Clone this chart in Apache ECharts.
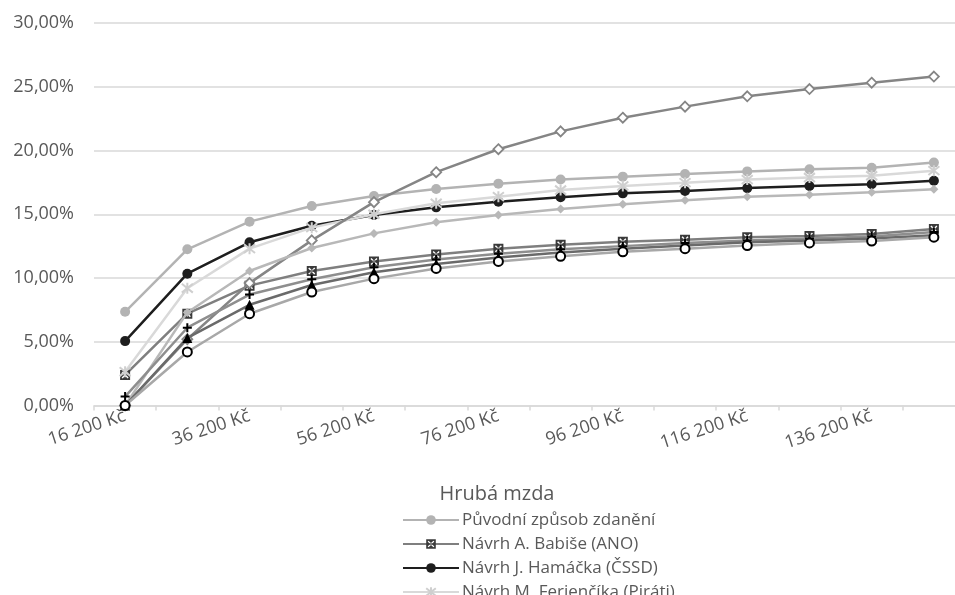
<!DOCTYPE html>
<html>
<head>
<meta charset="utf-8">
<script src="https://cdn.jsdelivr.net/npm/echarts@6/dist/echarts.min.js"></script>
<style>
  html, body { margin: 0; padding: 0; background: #ffffff; }
  #chart { width: 955px; height: 595px; }
</style>
</head>
<body>
<div id="chart"></div>
<script>
// Gross monthly wage levels (Kč)
const categories = [
  '16 200 Kč', '26 200 Kč', '36 200 Kč', '46 200 Kč', '56 200 Kč', '66 200 Kč', '76 200 Kč',
  '86 200 Kč', '96 200 Kč', '106 200 Kč', '116 200 Kč', '126 200 Kč', '136 200 Kč', '146 200 Kč'
];

// Effective tax burden in percent for each variant
const puvodni  = [7.35, 12.25, 14.42, 15.65, 16.43, 16.98, 17.40, 17.73, 17.95, 18.16, 18.36, 18.52, 18.65, 19.05];
const babis    = [2.40, 7.20, 9.40, 10.55, 11.30, 11.85, 12.30, 12.60, 12.85, 13.00, 13.20, 13.30, 13.45, 13.85];
const hamacek  = [5.05, 10.34, 12.80, 14.10, 14.94, 15.54, 15.98, 16.34, 16.64, 16.82, 17.05, 17.22, 17.35, 17.63];
const ferjencik = [2.65, 9.20, 12.30, 13.95, 15.00, 15.86, 16.38, 16.90, 17.22, 17.48, 17.72, 17.88, 18.02, 18.42];
const rada5    = [0.00, 5.20, 9.60, 12.95, 15.95, 18.30, 20.10, 21.50, 22.57, 23.44, 24.25, 24.82, 25.32, 25.80];
const rada6    = [0.00, 7.30, 10.55, 12.35, 13.50, 14.37, 14.94, 15.42, 15.78, 16.10, 16.38, 16.52, 16.72, 16.96];
const rada7    = [0.70, 6.10, 8.70, 9.90, 10.85, 11.45, 11.90, 12.25, 12.50, 12.75, 12.95, 13.10, 13.25, 13.60];
const rada8    = [0.00, 5.30, 7.90, 9.45, 10.45, 11.10, 11.60, 12.00, 12.30, 12.55, 12.80, 12.95, 13.10, 13.35];
const rada9    = [0.00, 4.20, 7.20, 8.90, 9.95, 10.75, 11.30, 11.70, 12.05, 12.30, 12.55, 12.75, 12.90, 13.20];

// Value axis ticks (percent)
const yTicks = { min: 0, max: 30, step: 5 };

const legendNames = [
  'Původní způsob zdanění',
  'Návrh A. Babiše (ANO)',
  'Návrh J. Hamáčka (ČSSD)',
  'Návrh M. Ferjenčíka (Piráti)'
];

const FONT = '"Open Sans", "Noto Sans", sans-serif';
const TEXT = '#595959';

// Marker shapes
const squareX = 'path://M0,0L10,0L10,10L0,10Z' +
  'M4,5L1.5,7.5L2.5,8.5L5,6L7.5,8.5L8.5,7.5L6,5L8.5,2.5L7.5,1.5L5,4L2.5,1.5L1.5,2.5Z';
const asterisk = 'path://M1,1L9,9M9,1L1,9M5,0L5,10';
const plus = 'path://M5,0L5,10M0,5L10,5';

function lineSeries(name, data, lineColor, symbol, size, itemStyle, z) {
  return {
    name: name,
    type: 'line',
    data: data,
    symbol: symbol,
    symbolSize: size,
    showAllSymbol: true,
    z: z,
    lineStyle: { color: lineColor, width: 2.5 },
    itemStyle: itemStyle,
    emphasis: { disabled: true },
    animation: false
  };
}

const chart = echarts.init(document.getElementById('chart'), null, { renderer: 'canvas' });

chart.setOption({
  backgroundColor: '#ffffff',
  animation: false,
  grid: { left: 94, right: -10, top: 23, bottom: 189.5, containLabel: false, outerBoundsMode: 'none' },
  xAxis: {
    type: 'category',
    data: categories,
    boundaryGap: true,
    axisLine: { show: true, lineStyle: { color: '#d9d9d9', width: 1.5 } },
    axisTick: { show: true, interval: 0, length: 5, lineStyle: { color: '#d9d9d9', width: 1.5 } },
    axisLabel: {
      interval: 1,
      rotate: 18,
      margin: 10,
      color: TEXT,
      fontFamily: FONT,
      fontSize: 18
    },
    splitLine: { show: false }
  },
  yAxis: {
    type: 'value',
    min: yTicks.min,
    max: yTicks.max,
    interval: yTicks.step,
    axisLine: { show: false },
    axisTick: { show: false },
    axisLabel: {
      margin: 20,
      color: TEXT,
      fontFamily: FONT,
      fontSize: 18,
      formatter: function (v) { return v.toFixed(2).replace('.', ',') + '%'; }
    },
    splitLine: { show: true, lineStyle: { color: '#d9d9d9', width: 1.5 } }
  },
  legend: {
    data: legendNames,
    orient: 'vertical',
    left: 397,
    top: 506,
    height: 200,
    itemWidth: 56,
    itemHeight: 12,
    itemGap: 6,
    selectedMode: false,
    textStyle: { color: TEXT, fontFamily: FONT, fontSize: 17, lineHeight: 18, padding: [0, 0, 0, -2] }
  },
  graphic: [{
    type: 'text',
    x: 497,
    y: 494,
    style: {
      text: 'Hrubá mzda',
      fill: TEXT,
      font: '20px ' + FONT,
      align: 'center',
      verticalAlign: 'middle'
    }
  }],
  series: [
    lineSeries(legendNames[0], puvodni, '#b3b3b3', 'circle', 10, { color: '#b3b3b3' }, 2),
    lineSeries(legendNames[1], babis, '#7f7f7f', squareX, 10, { color: '#3a3a3a' }, 3),
    lineSeries(legendNames[2], hamacek, '#1e1e1e', 'circle', 10, { color: '#1e1e1e' }, 4),
    lineSeries(legendNames[3], ferjencik, '#d9d9d9', asterisk, 11, { color: '#d9d9d9', borderColor: '#cfcfcf', borderWidth: 2 }, 5),
    lineSeries('Řada 5', rada5, '#858585', 'diamond', 10, { color: '#ffffff', borderColor: '#858585', borderWidth: 1.8 }, 6),
    lineSeries('Řada 6', rada6, '#b8b8b8', 'diamond', 9, { color: '#b8b8b8' }, 7),
    lineSeries('Řada 7', rada7, '#8e8e8e', plus, 9, { color: '#000000', borderColor: '#000000', borderWidth: 2 }, 8),
    lineSeries('Řada 8', rada8, '#6a6a6a', 'triangle', 10, { color: '#000000' }, 9),
    lineSeries('Řada 9', rada9, '#a8a8a8', 'circle', 9, { color: '#ffffff', borderColor: '#000000', borderWidth: 2 }, 10)
  ]
});
</script>
</body>
</html>
